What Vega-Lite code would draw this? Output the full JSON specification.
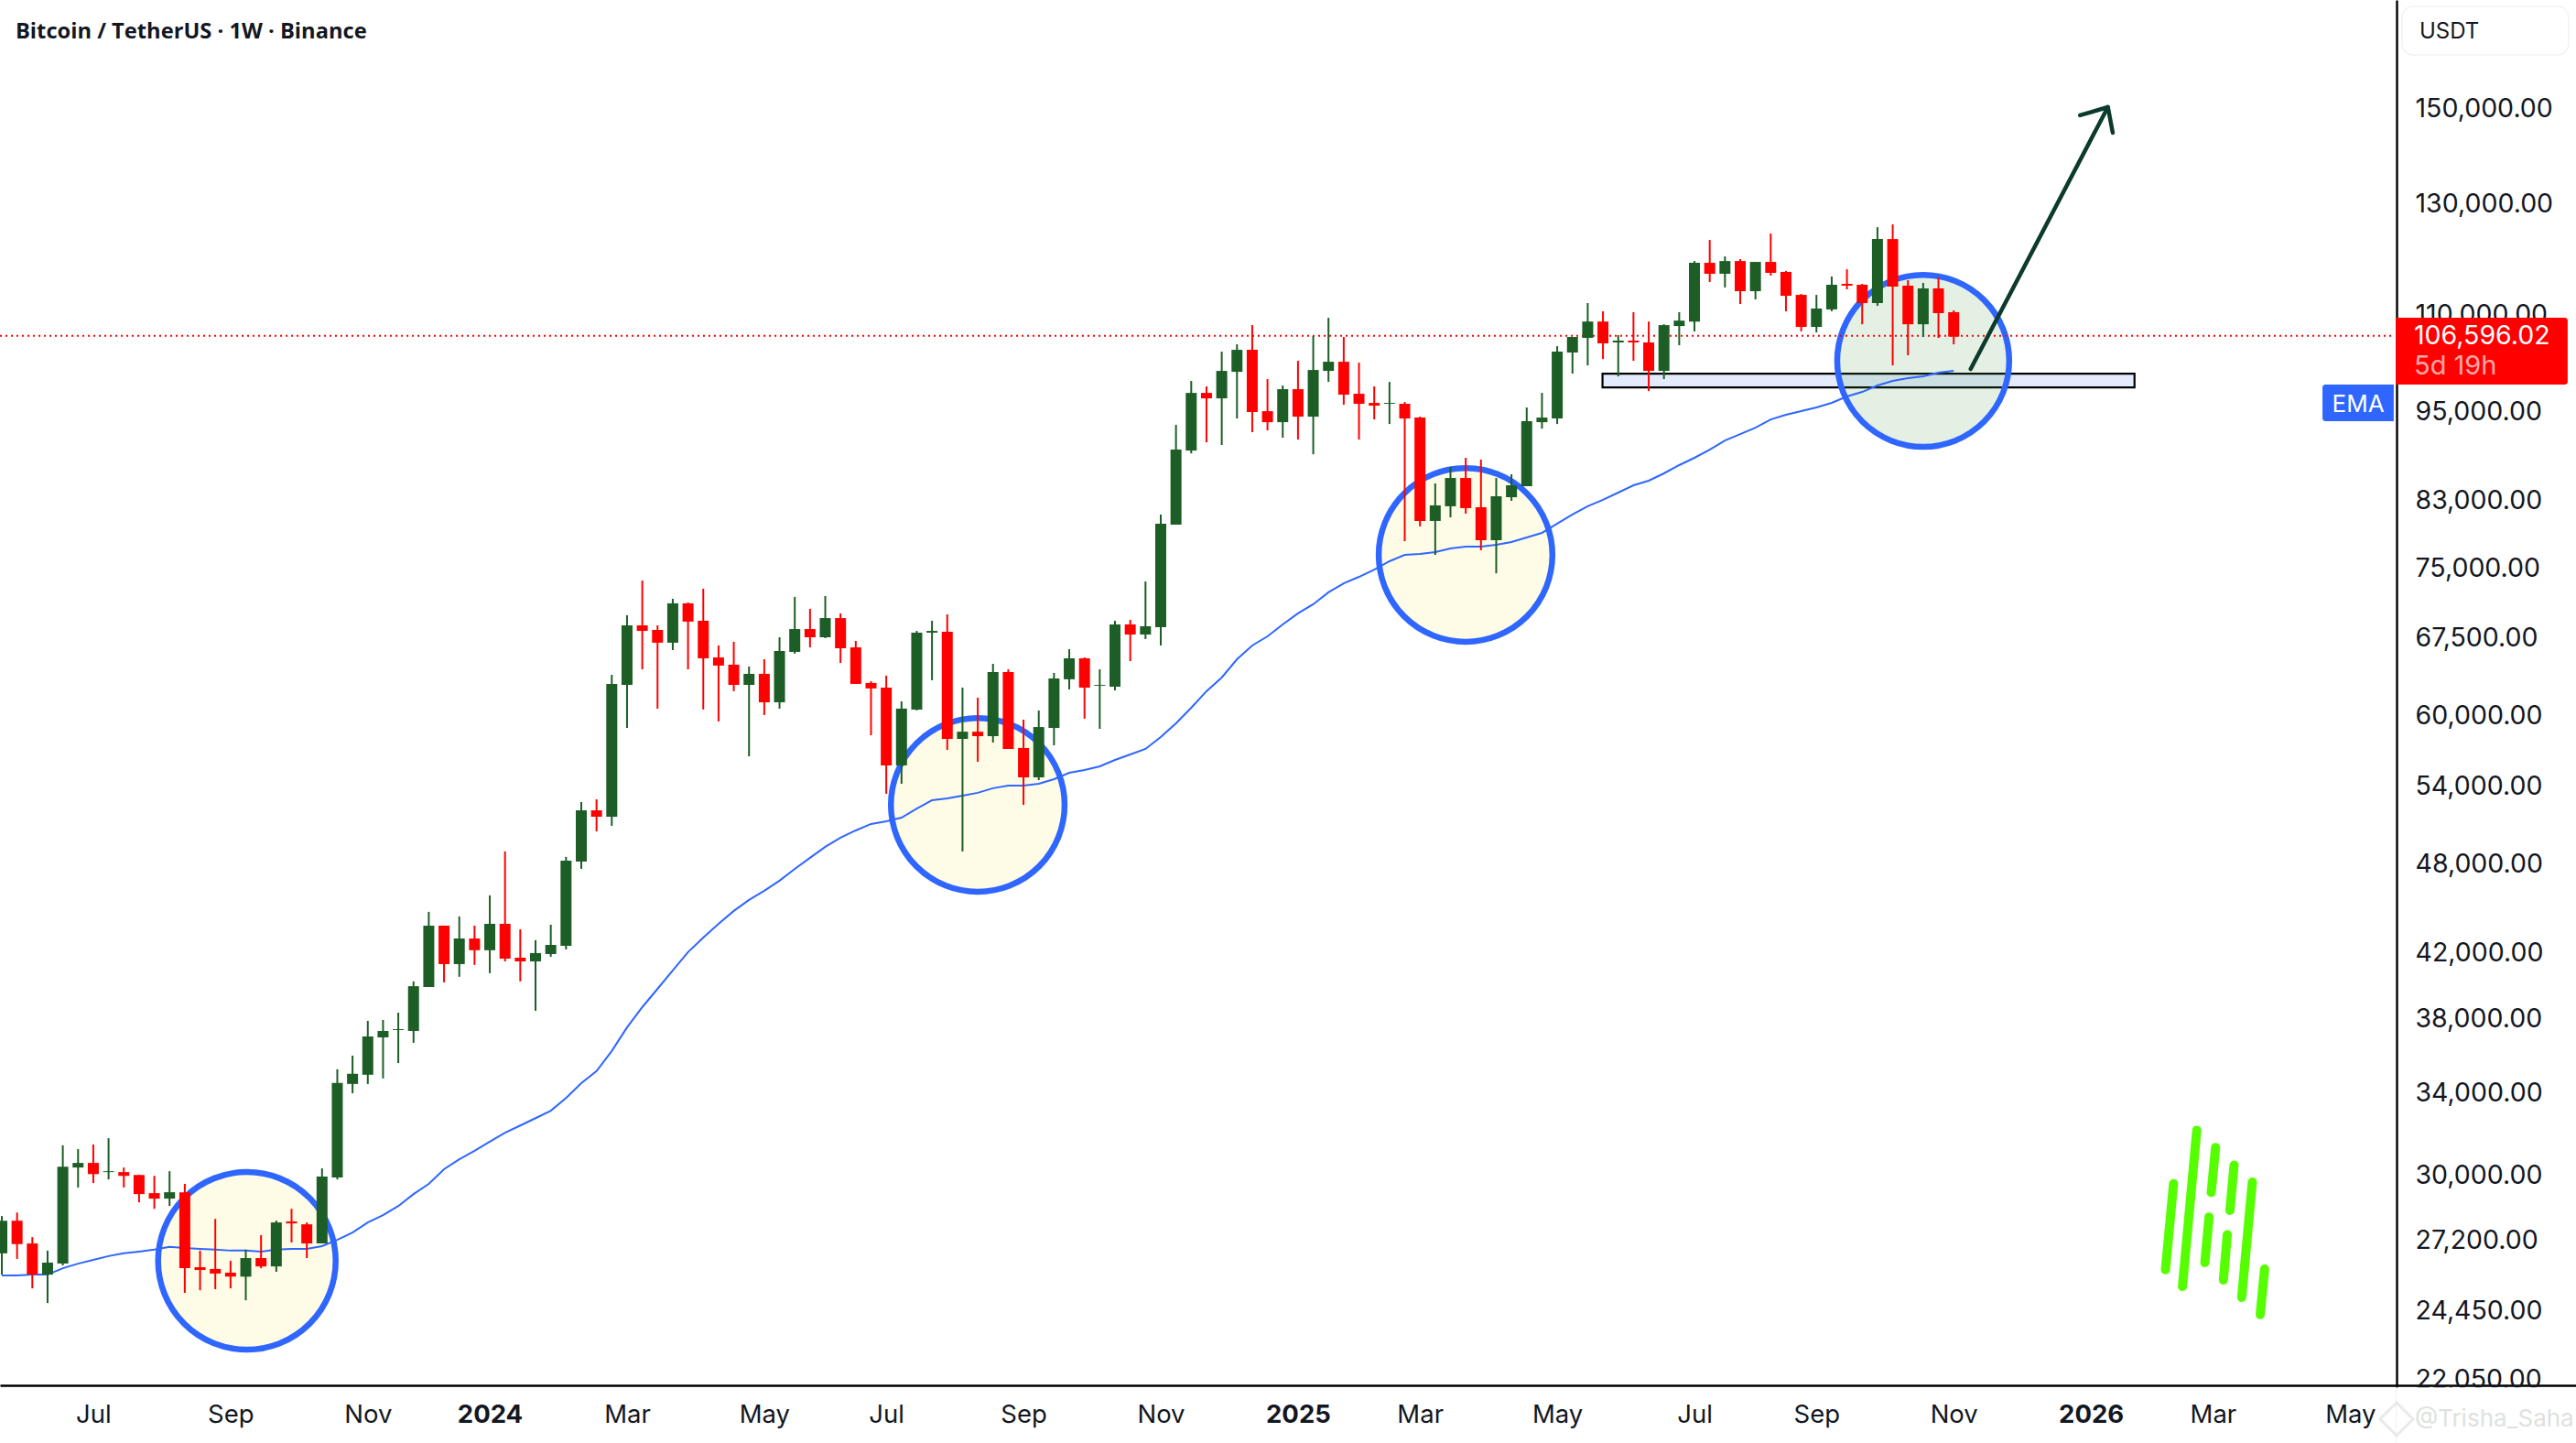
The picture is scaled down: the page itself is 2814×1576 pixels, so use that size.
{
  "$schema": "https://vega.github.io/schema/vega-lite/v6.json",
  "autosize": {"type": "none"},
  "padding": 0,
  "width": 2814,
  "height": 1576,
  "background": "white",
  "view": {"stroke": null},
  "datasets": {
    "candles": [
      {"d":"2023-05-22","o":26620,"h":28160,"l":25780,"c":27960,"ema":25750},
      {"d":"2023-05-29","o":27960,"h":28310,"l":26400,"c":26990,"ema":25750},
      {"d":"2023-06-05","o":27020,"h":27280,"l":25250,"c":25780,"ema":25780},
      {"d":"2023-06-12","o":25780,"h":26730,"l":24700,"c":26250,"ema":25780},
      {"d":"2023-06-19","o":26210,"h":31330,"l":26140,"c":30340,"ema":26030},
      {"d":"2023-06-26","o":30300,"h":31150,"l":29400,"c":30510,"ema":26210},
      {"d":"2023-07-03","o":30510,"h":31370,"l":29600,"c":30000,"ema":26360},
      {"d":"2023-07-10","o":30090,"h":31670,"l":29760,"c":30130,"ema":26510},
      {"d":"2023-07-17","o":30090,"h":30300,"l":29400,"c":29920,"ema":26620},
      {"d":"2023-07-24","o":29960,"h":29960,"l":28750,"c":29110,"ema":26690},
      {"d":"2023-07-31","o":29150,"h":29920,"l":28470,"c":28910,"ema":26770},
      {"d":"2023-08-07","o":28910,"h":30130,"l":28590,"c":29190,"ema":26880},
      {"d":"2023-08-14","o":29190,"h":29560,"l":25080,"c":26030,"ema":26840},
      {"d":"2023-08-21","o":26070,"h":26730,"l":25180,"c":25960,"ema":26800},
      {"d":"2023-08-28","o":26000,"h":28040,"l":25220,"c":25820,"ema":26770},
      {"d":"2023-09-04","o":25850,"h":26320,"l":25250,"c":25700,"ema":26730},
      {"d":"2023-09-11","o":25700,"h":26770,"l":24800,"c":26430,"ema":26730},
      {"d":"2023-09-18","o":26430,"h":27360,"l":26030,"c":26100,"ema":26690},
      {"d":"2023-09-25","o":26100,"h":27970,"l":25890,"c":27890,"ema":26770},
      {"d":"2023-10-02","o":27930,"h":28470,"l":27060,"c":27850,"ema":26800},
      {"d":"2023-10-09","o":27810,"h":27890,"l":26430,"c":27020,"ema":26800},
      {"d":"2023-10-16","o":27020,"h":30260,"l":27020,"c":29890,"ema":26910},
      {"d":"2023-10-23","o":29850,"h":35140,"l":29760,"c":34420,"ema":27170},
      {"d":"2023-10-30","o":34370,"h":35870,"l":33890,"c":34900,"ema":27470},
      {"d":"2023-11-06","o":34850,"h":37800,"l":34370,"c":36920,"ema":27890},
      {"d":"2023-11-13","o":36870,"h":37850,"l":34660,"c":37230,"ema":28200},
      {"d":"2023-11-20","o":37280,"h":38270,"l":35470,"c":37330,"ema":28590},
      {"d":"2023-11-27","o":37230,"h":40120,"l":36570,"c":39830,"ema":29110},
      {"d":"2023-12-04","o":39780,"h":44560,"l":39780,"c":43640,"ema":29560},
      {"d":"2023-12-11","o":43640,"h":43640,"l":40060,"c":41180,"ema":30220},
      {"d":"2023-12-18","o":41180,"h":44250,"l":40400,"c":42800,"ema":30680},
      {"d":"2023-12-25","o":42800,"h":43640,"l":41130,"c":42050,"ema":31070},
      {"d":"2024-01-01","o":42050,"h":45680,"l":40620,"c":43760,"ema":31500},
      {"d":"2024-01-08","o":43760,"h":48810,"l":41350,"c":41520,"ema":31930},
      {"d":"2024-01-15","o":41580,"h":43400,"l":40120,"c":41350,"ema":32280},
      {"d":"2024-01-22","o":41350,"h":42690,"l":38380,"c":41870,"ema":32640},
      {"d":"2024-01-29","o":41810,"h":43700,"l":41640,"c":42390,"ema":33010},
      {"d":"2024-02-05","o":42330,"h":48410,"l":42100,"c":48140,"ema":33650},
      {"d":"2024-02-12","o":48070,"h":52580,"l":47540,"c":51930,"ema":34410},
      {"d":"2024-02-19","o":51930,"h":52800,"l":50310,"c":51430,"ema":35040},
      {"d":"2024-02-26","o":51430,"h":63710,"l":50730,"c":62840,"ema":36120},
      {"d":"2024-03-04","o":62750,"h":69700,"l":58800,"c":68640,"ema":37430},
      {"d":"2024-03-11","o":68640,"h":73440,"l":64240,"c":68070,"ema":38590},
      {"d":"2024-03-18","o":68170,"h":68640,"l":60540,"c":66870,"ema":39670},
      {"d":"2024-03-25","o":66870,"h":71450,"l":66130,"c":70960,"ema":40790},
      {"d":"2024-04-01","o":70960,"h":71050,"l":64240,"c":69030,"ema":41930},
      {"d":"2024-04-08","o":69120,"h":72540,"l":60460,"c":65310,"ema":42860},
      {"d":"2024-04-15","o":65400,"h":66590,"l":59380,"c":64600,"ema":43760},
      {"d":"2024-04-22","o":64690,"h":66960,"l":62150,"c":62750,"ema":44620},
      {"d":"2024-04-29","o":62750,"h":64510,"l":56340,"c":63800,"ema":45360},
      {"d":"2024-05-06","o":63800,"h":65220,"l":59960,"c":61120,"ema":46000},
      {"d":"2024-05-13","o":61120,"h":67420,"l":60540,"c":66040,"ema":46700},
      {"d":"2024-05-20","o":65950,"h":71650,"l":65770,"c":68260,"ema":47540},
      {"d":"2024-05-27","o":68260,"h":70370,"l":66400,"c":67420,"ema":48340},
      {"d":"2024-06-03","o":67420,"h":71750,"l":67330,"c":69400,"ema":49150},
      {"d":"2024-06-10","o":69400,"h":69890,"l":64860,"c":66310,"ema":49830},
      {"d":"2024-06-17","o":66400,"h":67050,"l":62840,"c":62840,"ema":50380},
      {"d":"2024-06-24","o":62930,"h":63100,"l":58160,"c":62410,"ema":50870},
      {"d":"2024-07-01","o":62490,"h":63630,"l":53240,"c":55570,"ema":51080},
      {"d":"2024-07-08","o":55570,"h":61210,"l":54050,"c":60540,"ema":51360},
      {"d":"2024-07-15","o":60460,"h":68070,"l":60380,"c":67890,"ema":52070},
      {"d":"2024-07-22","o":67890,"h":69120,"l":63190,"c":68070,"ema":52730},
      {"d":"2024-07-29","o":67980,"h":69790,"l":56890,"c":57840,"ema":52880},
      {"d":"2024-08-05","o":57840,"h":62490,"l":48810,"c":58470,"ema":53090},
      {"d":"2024-08-12","o":58470,"h":61550,"l":55880,"c":58080,"ema":53320},
      {"d":"2024-08-19","o":58080,"h":64770,"l":57520,"c":63980,"ema":53690},
      {"d":"2024-08-26","o":63980,"h":64240,"l":56970,"c":56970,"ema":53910},
      {"d":"2024-09-02","o":57050,"h":59540,"l":52360,"c":54580,"ema":53910},
      {"d":"2024-09-09","o":54580,"h":60370,"l":54350,"c":58880,"ema":54050},
      {"d":"2024-09-16","o":58800,"h":63890,"l":57280,"c":63360,"ema":54430},
      {"d":"2024-09-23","o":63280,"h":66220,"l":62320,"c":65310,"ema":54960},
      {"d":"2024-09-30","o":65310,"h":65400,"l":59630,"c":62490,"ema":55180},
      {"d":"2024-10-07","o":62670,"h":64240,"l":58720,"c":62750,"ema":55490},
      {"d":"2024-10-14","o":62580,"h":69120,"l":62230,"c":68740,"ema":56030},
      {"d":"2024-10-21","o":68740,"h":69220,"l":65040,"c":67700,"ema":56500},
      {"d":"2024-10-28","o":67700,"h":73340,"l":67240,"c":68550,"ema":56970},
      {"d":"2024-11-04","o":68450,"h":81130,"l":66590,"c":80020,"ema":58000},
      {"d":"2024-11-11","o":79900,"h":92880,"l":79900,"c":89470,"ema":59210},
      {"d":"2024-11-18","o":89350,"h":99240,"l":88970,"c":97470,"ema":60620},
      {"d":"2024-11-25","o":97470,"h":98430,"l":90470,"c":96670,"ema":62150},
      {"d":"2024-12-02","o":96670,"h":103720,"l":90100,"c":100760,"ema":63450},
      {"d":"2024-12-09","o":100620,"h":104880,"l":93780,"c":104010,"ema":65220},
      {"d":"2024-12-16","o":104010,"h":107960,"l":91860,"c":94690,"ema":66590},
      {"d":"2024-12-23","o":94820,"h":99520,"l":92110,"c":93260,"ema":67510},
      {"d":"2024-12-30","o":93260,"h":98560,"l":91100,"c":98020,"ema":68740},
      {"d":"2025-01-06","o":98020,"h":102300,"l":90850,"c":94040,"ema":69890},
      {"d":"2025-01-13","o":94040,"h":106200,"l":88850,"c":100900,"ema":70860},
      {"d":"2025-01-20","o":100760,"h":109160,"l":99100,"c":102160,"ema":72150},
      {"d":"2025-01-27","o":102160,"h":106050,"l":95740,"c":97210,"ema":73140},
      {"d":"2025-02-03","o":97340,"h":102020,"l":90850,"c":95880,"ema":73850},
      {"d":"2025-02-10","o":96010,"h":98430,"l":93650,"c":95610,"ema":74670},
      {"d":"2025-02-17","o":95880,"h":99100,"l":93000,"c":96010,"ema":75610},
      {"d":"2025-02-24","o":95880,"h":96140,"l":77940,"c":93780,"ema":76340},
      {"d":"2025-03-03","o":93910,"h":94040,"l":79690,"c":80350,"ema":76450},
      {"d":"2025-03-10","o":80350,"h":85030,"l":76340,"c":82260,"ema":76660},
      {"d":"2025-03-17","o":82150,"h":87170,"l":80790,"c":85730,"ema":77090},
      {"d":"2025-03-24","o":85730,"h":88380,"l":81240,"c":81920,"ema":77300},
      {"d":"2025-03-31","o":82030,"h":88140,"l":76870,"c":78050,"ema":77300},
      {"d":"2025-04-07","o":78050,"h":85730,"l":74250,"c":83400,"ema":77520},
      {"d":"2025-04-14","o":83280,"h":86210,"l":82830,"c":84790,"ema":77830},
      {"d":"2025-04-21","o":84670,"h":95350,"l":84670,"c":93390,"ema":78380},
      {"d":"2025-04-28","o":93260,"h":97470,"l":92360,"c":93910,"ema":78920},
      {"d":"2025-05-05","o":93780,"h":104590,"l":93000,"c":103730,"ema":80020},
      {"d":"2025-05-12","o":103590,"h":106050,"l":100350,"c":106050,"ema":81130},
      {"d":"2025-05-19","o":105900,"h":111610,"l":101600,"c":108550,"ema":82150},
      {"d":"2025-05-26","o":108550,"h":110240,"l":102580,"c":105030,"ema":82950},
      {"d":"2025-06-02","o":105180,"h":106350,"l":99930,"c":105470,"ema":83860},
      {"d":"2025-06-09","o":105470,"h":110090,"l":102300,"c":105180,"ema":84790},
      {"d":"2025-06-16","o":105180,"h":108550,"l":97740,"c":100760,"ema":85380},
      {"d":"2025-06-23","o":100760,"h":108100,"l":99520,"c":107960,"ema":86330},
      {"d":"2025-06-30","o":107810,"h":110090,"l":104730,"c":108700,"ema":87410},
      {"d":"2025-07-07","o":108550,"h":118920,"l":106940,"c":118600,"ema":88380},
      {"d":"2025-07-14","o":118600,"h":122760,"l":115220,"c":116660,"ema":89470},
      {"d":"2025-07-21","o":116660,"h":119750,"l":114270,"c":118920,"ema":90720},
      {"d":"2025-07-28","o":118920,"h":119260,"l":111460,"c":113630,"ema":91600},
      {"d":"2025-08-04","o":113630,"h":118760,"l":112230,"c":118760,"ema":92490},
      {"d":"2025-08-11","o":118760,"h":123950,"l":116340,"c":116820,"ema":93650},
      {"d":"2025-08-18","o":116990,"h":117160,"l":110240,"c":112850,"ema":94300},
      {"d":"2025-08-25","o":113000,"h":113160,"l":106940,"c":107670,"ema":94820},
      {"d":"2025-09-01","o":107670,"h":113000,"l":106790,"c":110700,"ema":95350},
      {"d":"2025-09-08","o":110550,"h":116180,"l":110240,"c":114740,"ema":96010},
      {"d":"2025-09-15","o":114900,"h":117450,"l":113950,"c":114580,"ema":96940},
      {"d":"2025-09-22","o":114740,"h":114900,"l":108100,"c":111610,"ema":97610},
      {"d":"2025-09-29","o":111610,"h":125150,"l":111150,"c":122930,"ema":98560},
      {"d":"2025-10-06","o":122930,"h":125670,"l":101600,"c":114420,"ema":99240},
      {"d":"2025-10-13","o":114580,"h":115540,"l":103160,"c":108100,"ema":99660},
      {"d":"2025-10-20","o":108100,"h":115060,"l":106050,"c":114110,"ema":99930},
      {"d":"2025-10-27","o":114110,"h":116020,"l":105900,"c":109930,"ema":100480},
      {"d":"2025-11-03","o":110090,"h":110390,"l":104880,"c":106100,"ema":100760}
    ],
    "arrow": [
      {"seg":"shaft","i":0,"d":"2025-11-10T19:00Z","p":101040},
      {"seg":"shaft","i":1,"d":"2026-01-12T19:00Z","p":150000},
      {"seg":"head","i":0,"d":"2025-12-31T00:00Z","p":148150},
      {"seg":"head","i":1,"d":"2026-01-12T19:00Z","p":150000},
      {"seg":"head","i":2,"d":"2026-01-15T00:00Z","p":144320}
    ],
    "logo": [
      {"seg":"a","i":0,"d":"2026-02-11T22:00Z","p":29570},
      {"seg":"a","i":1,"d":"2026-02-08T05:00Z","p":25970},
      {"seg":"b","i":0,"d":"2026-02-22T14:00Z","p":32050},
      {"seg":"b","i":1,"d":"2026-02-16T00:00Z","p":25320},
      {"seg":"c","i":0,"d":"2026-03-03T05:00Z","p":31230},
      {"seg":"c","i":1,"d":"2026-03-01T05:00Z","p":29180},
      {"seg":"e","i":0,"d":"2026-03-11T17:00Z","p":30410},
      {"seg":"e","i":1,"d":"2026-03-09T19:00Z","p":28400},
      {"seg":"f","i":0,"d":"2026-02-28T05:00Z","p":28120},
      {"seg":"f","i":1,"d":"2026-02-26T07:00Z","p":26250},
      {"seg":"g","i":0,"d":"2026-03-08T14:00Z","p":27380},
      {"seg":"g","i":1,"d":"2026-03-06T19:00Z","p":25570},
      {"seg":"h","i":0,"d":"2026-03-20T02:00Z","p":29640},
      {"seg":"h","i":1,"d":"2026-03-15T05:00Z","p":24910},
      {"seg":"j","i":0,"d":"2026-03-25T17:00Z","p":26000},
      {"seg":"j","i":1,"d":"2026-03-23T17:00Z","p":24270}
    ]
  },
  "encoding": {
    "x": {
      "field": "d",
      "type": "temporal",
      "title": null,
      "scale": {
        "type": "utc",
        "nice": false,
        "padding": 0,
        "domain": [
          {"year": 2023, "month": 5, "date": 21, "hours": 4, "utc": true},
          {"year": 2026, "month": 8, "date": 15, "hours": 16, "utc": true}
        ]
      },
      "axis": {
        "orient": "bottom",
        "offset": -63,
        "title": null,
        "grid": false,
        "ticks": false,
        "domainColor": "black",
        "domainWidth": 2.4,
        "labelFont": "Inter",
        "labelFontSize": 27.5,
        "labelColor": "#131722",
        "labelPadding": 32,
        "labelBaseline": "middle",
        "labelOverlap": false,
        "labelBound": false,
        "labelFlush": false,
        "labelFontWeight": {"condition": {"test": "utcmonth(datum.value)==0", "value": "bold"}, "value": "normal"},
        "labelExpr": "utcFormat(datum.value, utcmonth(datum.value)==0 ? '%Y' : '%b')",
        "values": [
          {"year": 2023, "month": 7, "date": 3, "utc": true},
          {"year": 2023, "month": 9, "date": 4, "utc": true},
          {"year": 2023, "month": 11, "date": 6, "utc": true},
          {"year": 2024, "month": 1, "date": 1, "utc": true},
          {"year": 2024, "month": 3, "date": 4, "utc": true},
          {"year": 2024, "month": 5, "date": 6, "utc": true},
          {"year": 2024, "month": 7, "date": 1, "utc": true},
          {"year": 2024, "month": 9, "date": 2, "utc": true},
          {"year": 2024, "month": 11, "date": 4, "utc": true},
          {"year": 2025, "month": 1, "date": 6, "utc": true},
          {"year": 2025, "month": 3, "date": 3, "utc": true},
          {"year": 2025, "month": 5, "date": 5, "utc": true},
          {"year": 2025, "month": 7, "date": 7, "utc": true},
          {"year": 2025, "month": 9, "date": 1, "utc": true},
          {"year": 2025, "month": 11, "date": 3, "utc": true},
          {"year": 2026, "month": 1, "date": 5, "utc": true},
          {"year": 2026, "month": 3, "date": 2, "utc": true},
          {"year": 2026, "month": 5, "date": 4, "utc": true}
        ]
      }
    },
    "y": {
      "field": "p",
      "type": "quantitative",
      "title": null,
      "scale": {"type": "log", "nice": false, "padding": 0, "domain": [19997, 176300]},
      "axis": {
        "orient": "right",
        "offset": -196,
        "title": null,
        "grid": false,
        "ticks": false,
        "domainColor": "black",
        "domainWidth": 2.4,
        "labelFont": "Inter",
        "labelFontSize": 28.5,
        "labelColor": "#131722",
        "labelPadding": 20,
        "labelOffset": 1.5,
        "labelOverlap": false,
        "labelBound": false,
        "labelFlush": false,
        "format": ",.2f",
        "values": [150000, 130000, 110000, 95000, 83000, 75000, 67500, 60000, 54000, 48000, 42000, 38000, 34000, 30000, 27200, 24450, 22050]
      }
    }
  },
  "layer": [
    {
      "data": {"values": [{"d": "2025-05-25T19:00Z", "d2": "2026-01-25T00:00Z", "p": 100350, "p2": 98290}]},
      "mark": {"type": "rect", "fill": "#e4ebfd", "stroke": "black", "strokeWidth": 2.2},
      "encoding": {"x2": {"field": "d2"}, "y2": {"field": "p2"}}
    },
    {
      "data": {"values": [{"d": "2023-09-11T12:00Z", "p": 26320}]},
      "mark": {"type": "point", "shape": "circle", "filled": true, "size": 37640, "fill": "#fefce6", "stroke": "#2e66ff", "strokeWidth": 6.5, "opacity": 1}
    },
    {
      "data": {"values": [
        {"d": "2024-08-12T00:00Z", "p": 52360},
        {"d": "2025-03-23T22:00Z", "p": 76340}
      ]},
      "mark": {"type": "point", "shape": "circle", "filled": true, "size": 36000, "fill": "#fefce6", "stroke": "#2e66ff", "strokeWidth": 6.5, "opacity": 1}
    },
    {
      "data": {"values": [{"d": "2025-10-20T00:00Z", "p": 102300}]},
      "mark": {"type": "point", "shape": "circle", "filled": true, "size": 35300, "fill": "#449b44", "fillOpacity": 0.15, "stroke": "#2e66ff", "strokeOpacity": 1, "strokeWidth": 6.5}
    },
    {
      "data": {"values": [{"d": "2023-05-21T04:00Z", "d2": "2026-05-24T00:00Z", "p": 106240}]},
      "mark": {"type": "rule", "color": "#ff0000", "strokeWidth": 2, "strokeDash": [2, 4]},
      "encoding": {"x2": {"field": "d2"}}
    },
    {
      "data": {"name": "candles"},
      "mark": {"type": "line", "color": "#2e66ff", "strokeWidth": 2},
      "encoding": {"y": {"field": "ema", "type": "quantitative"}}
    },
    {
      "data": {"name": "candles"},
      "mark": {"type": "rule", "strokeWidth": 2},
      "encoding": {
        "y": {"field": "l", "type": "quantitative"},
        "y2": {"field": "h"},
        "color": {"condition": {"test": "datum.c>=datum.o", "value": "#1c5e26"}, "value": "#ff0000"}
      }
    },
    {
      "data": {"name": "candles"},
      "mark": {"type": "bar", "orient": "vertical", "size": 12},
      "encoding": {
        "y": {"field": "o", "type": "quantitative"},
        "y2": {"field": "c"},
        "color": {"condition": {"test": "datum.c>=datum.o", "value": "#1c5e26"}, "value": "#ff0000"}
      }
    },
    {
      "data": {"name": "arrow"},
      "mark": {"type": "line", "color": "#0c3a2c", "strokeWidth": 4.5, "strokeCap": "round", "strokeJoin": "round"},
      "encoding": {"detail": {"field": "seg"}, "order": {"field": "i"}}
    },
    {
      "data": {"name": "logo"},
      "mark": {"type": "line", "color": "#55ff00", "strokeWidth": 10, "strokeCap": "round"},
      "encoding": {"detail": {"field": "seg"}, "order": {"field": "i"}}
    },
    {
      "data": {"values": [{"d": "2026-05-24T22:00Z", "d2": "2026-08-11T20:00Z", "p": 109170, "p2": 98700}]},
      "mark": {"type": "rect", "fill": "#ff0000", "cornerRadiusTopRight": 3, "cornerRadiusBottomRight": 3},
      "encoding": {"x2": {"field": "d2"}, "y2": {"field": "p2"}}
    },
    {
      "data": {"values": [{"d": "2026-04-21T07:00Z", "d2": "2026-05-24T00:00Z", "p": 98700, "p2": 93390}]},
      "mark": {"type": "rect", "fill": "#2e66ff", "cornerRadiusTopLeft": 3, "cornerRadiusBottomLeft": 3},
      "encoding": {"x2": {"field": "d2"}, "y2": {"field": "p2"}}
    },
    {
      "data": {"values": [{"d": "2026-05-27T19:00Z", "d2": "2026-08-12T06:00Z", "p": 174600, "p2": 162300}]},
      "mark": {"type": "rect", "fill": "white", "stroke": "#f0f3f0", "strokeWidth": 1.5, "cornerRadius": 12},
      "encoding": {"x2": {"field": "d2"}, "y2": {"field": "p2"}}
    },
    {
      "data": {"values": [{"d": "2026-05-24T22:00Z", "d2": "2026-08-15T16:00Z", "p": 21750, "p2": 19997}]},
      "mark": {"type": "rect", "fill": "white"},
      "encoding": {"x2": {"field": "d2"}, "y2": {"field": "p2"}}
    },
    {
      "data": {"values": [{"d": "2026-05-25T07:00Z", "p": 20730}]},
      "mark": {"type": "point", "shape": "diamond", "size": 1300, "filled": false, "stroke": "#dfe5df", "strokeWidth": 3}
    },
    {
      "data": {"values": [{"t": "Bitcoin / TetherUS · 1W · Binance", "d": "2023-05-28T07:00Z", "p": 168000}]},
      "mark": {"type": "text", "align": "left", "baseline": "middle", "font": "Open Sans", "fontSize": 23.7, "fontWeight": "bold", "color": "#131722"},
      "encoding": {"text": {"field": "t"}}
    },
    {
      "data": {"values": [{"t": "USDT", "d": "2026-06-04T19:00Z", "p": 168000}]},
      "mark": {"type": "text", "align": "left", "baseline": "middle", "font": "Inter", "fontSize": 24, "color": "#131722"},
      "encoding": {"text": {"field": "t"}}
    },
    {
      "data": {"values": [{"t": "106,596.02", "d": "2026-06-02T07:00Z", "p": 106200}]},
      "mark": {"type": "text", "align": "left", "baseline": "middle", "font": "Inter", "fontSize": 28.5, "color": "white"},
      "encoding": {"text": {"field": "t"}}
    },
    {
      "data": {"values": [{"t": "5d 19h", "d": "2026-06-02T07:00Z", "p": 101500}]},
      "mark": {"type": "text", "align": "left", "baseline": "middle", "font": "Inter", "fontSize": 29, "color": "#ffa8a8"},
      "encoding": {"text": {"field": "t"}}
    },
    {
      "data": {"values": [{"t": "EMA", "d": "2026-05-07T17:00Z", "p": 95800}]},
      "mark": {"type": "text", "align": "center", "baseline": "middle", "font": "Inter", "fontSize": 26, "color": "white"},
      "encoding": {"text": {"field": "t"}}
    },
    {
      "data": {"values": [{"t": "@Trisha_Saha", "d": "2026-06-02T17:00Z", "p": 20730}]},
      "mark": {"type": "text", "align": "left", "baseline": "middle", "font": "Inter", "fontSize": 26, "color": "#dde2dd"},
      "encoding": {"text": {"field": "t"}}
    }
  ]
}
